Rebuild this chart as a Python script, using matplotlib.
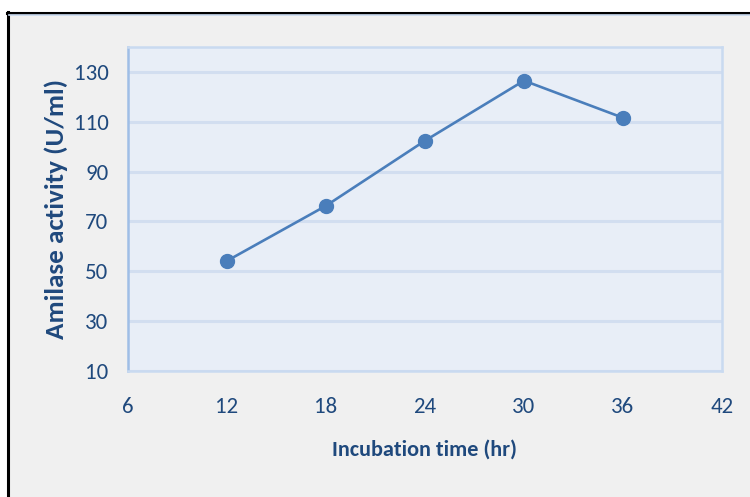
import matplotlib
matplotlib.use("Agg")
import matplotlib.pyplot as plt
from matplotlib import font_manager
from matplotlib.lines import Line2D
from matplotlib.patches import Rectangle

# Data
hours = [12, 18, 24, 30, 36]
activity = [54.2, 76.3, 102.4, 126.5, 111.6]
x_ticks = [6, 12, 18, 24, 30, 36, 42]
y_ticks = [10, 30, 50, 70, 90, 110, 130]

installed = {f.name for f in font_manager.fontManager.ttflist}


def pick(*families):
    for fam in families:
        if fam in installed:
            return fam
    return "Liberation Sans"


FONT = pick("Carlito", "Liberation Sans Narrow", "Roboto Condensed", "Asap Condensed",
            "Open Sans Condensed")

TEXT = "#1F497D"
SERIES = "#4A7EBB"
W, H = 750, 497

fig = plt.figure(figsize=(W / 100, H / 100), dpi=100, facecolor="white")

# Chart-area background and frame (top and left edges visible)
fig.patches.append(Rectangle((8 / W, 0), 1, 1 - 13 / H, transform=fig.transFigure,
                             facecolor="#F0F0F0", edgecolor="none", zorder=-5))
fig.add_artist(Line2D([7 / W, 1], [1 - 12.5 / H] * 2, transform=fig.transFigure,
                      color="black", lw=2.2))
fig.add_artist(Line2D([7.5 / W] * 2, [0, 1 - 12 / H], transform=fig.transFigure,
                      color="black", lw=2.2))
fig.add_artist(Line2D([9 / W, 1], [1 - 14.8 / H] * 2, transform=fig.transFigure,
                      color="#C9DAF0", lw=1.2))

ax = fig.add_axes([128 / W, 1 - 371 / H, (722 - 128) / W, (371 - 47) / H])
ax.set_facecolor("#E8EEF7")
ax.set_xlim(6, 42)
ax.set_ylim(10, 140)
ax.set_xticks(x_ticks)
ax.set_yticks(y_ticks)
ax.grid(axis="y", color="#D2DEF0", lw=2.2)
ax.set_axisbelow(True)
for side in ["top", "right", "bottom"]:
    ax.spines[side].set_color("#C9DAF0")
    ax.spines[side].set_linewidth(1.8)
ax.spines["left"].set_color("#9FBEE6")
ax.spines["left"].set_linewidth(1.8)
ax.tick_params(length=0, colors=TEXT, labelsize=16.5)
ax.tick_params(axis="y", pad=14)
ax.tick_params(axis="x", pad=19)
for lab in ax.get_xticklabels() + ax.get_yticklabels():
    lab.set_fontfamily(FONT)

ax.plot(hours, activity, color=SERIES, lw=1.9, marker="o", markersize=10,
        markerfacecolor=SERIES, markeredgecolor=SERIES, zorder=3)

ax.set_xlabel("Incubation time (hr)", fontfamily=FONT, fontweight="bold",
              fontsize=16, color=TEXT, labelpad=16)
ax.set_ylabel("Amilase activity (U/ml)", fontfamily=FONT, fontweight="bold",
              fontsize=19.5, color=TEXT, labelpad=4)

fig.savefig("out.png", dpi=100, facecolor=fig.get_facecolor())
